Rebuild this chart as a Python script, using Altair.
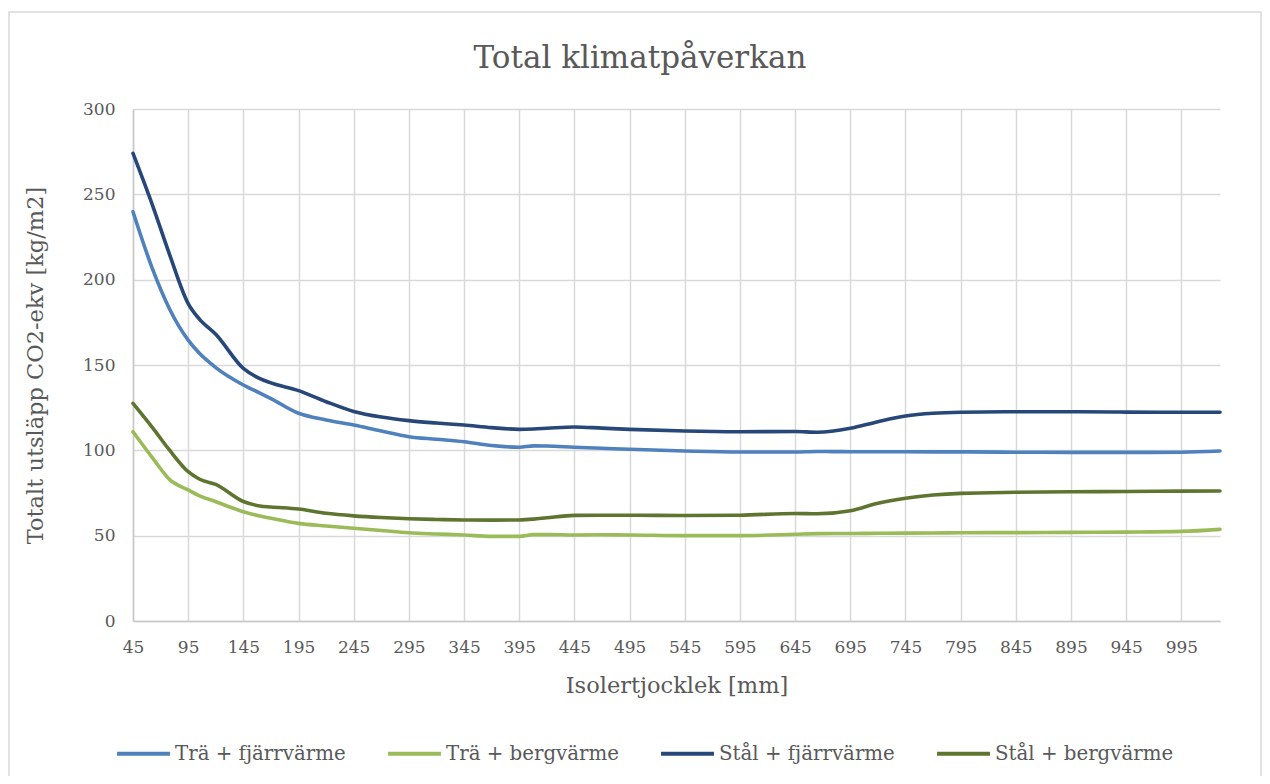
import altair as alt
import pandas as pd

# ---- data ----
thickness = [45, 63, 78, 95, 105, 120, 145, 160, 170, 195, 220, 245, 270, 295, 320, 345, 370, 395,
             408, 420, 445, 470, 495, 545, 595, 645, 665, 695, 720, 745, 770, 795, 845, 895, 945, 995, 1030]
tra_fjarr = [239.8, 205.7, 183, 164.6, 157, 148.5, 138.3, 133.5, 130.3, 121.7, 117.8, 114.8, 111.3, 108,
             106.5, 105, 102.8, 101.8, 102.6, 102.5, 101.8, 101.2, 100.6, 99.6, 99, 99, 99.3, 99.2, 99.2,
             99.2, 99.1, 99.1, 98.9, 98.8, 98.8, 98.9, 99.6]
tra_berg = [110.9, 95.3, 83, 76.8, 73.5, 69.9, 64, 61.5, 60.2, 57.2, 55.7, 54.3, 53, 51.7, 51, 50.4, 49.6,
            49.6, 50.6, 50.6, 50.4, 50.5, 50.4, 50, 50, 50.8, 51.2, 51.3, 51.4, 51.5, 51.6, 51.7, 51.8, 51.9,
            52.1, 52.5, 53.7]
stal_fjarr = [274, 243, 215, 186, 177, 168, 148, 142, 139.5, 135, 128.5, 122.8, 119.5, 117.4, 116, 114.8,
              113.3, 112.3, 112.5, 112.9, 113.7, 113, 112.3, 111.3, 110.9, 111, 110.6, 112.9, 116.8, 120.1,
              121.7, 122.3, 122.6, 122.6, 122.4, 122.3, 122.3]
stal_berg = [127.5, 113, 100.2, 87.5, 83.2, 80, 70, 67.4, 66.8, 65.6, 63.1, 61.6, 60.6, 59.9, 59.5, 59.2,
             59.1, 59.2, 59.7, 60.5, 61.9, 62, 62, 61.8, 62, 63, 62.8, 64.6, 69, 71.9, 73.8, 74.8, 75.4,
             75.7, 75.9, 76.1, 76.2]

series_names = ["Trä + fjärrvärme", "Trä + bergvärme", "Stål + fjärrvärme", "Stål + bergvärme"]
series_values = [tra_fjarr, tra_berg, stal_fjarr, stal_berg]
series_colors = ["#4F81BD", "#9BBB59", "#264778", "#5E7530"]

x_ticks = list(range(45, 1000, 50))
y_ticks = [0, 50, 100, 150, 200, 250, 300]

title_text = "Total klimatpåverkan"
x_title = "Isolertjocklek [mm]"
y_title = "Totalt utsläpp CO2-ekv [kg/m2]"

FONT = "DejaVu Serif"
GREY = "#595959"

rows = []
for name, vals in zip(series_names, series_values):
    for t, v in zip(thickness, vals):
        rows.append({"Isolertjocklek": t, "Värde": v, "Serie": name, "order": series_names.index(name)})
df = pd.DataFrame(rows)

PW, PH = 1087, 512

lines = alt.Chart(df).mark_line(
    interpolate="monotone", strokeWidth=3.6, strokeCap="round", strokeJoin="round"
).encode(
    x=alt.X("Isolertjocklek:Q",
            scale=alt.Scale(domain=[45, 1030], nice=False, zero=False),
            axis=alt.Axis(values=x_ticks, title=x_title, grid=True, ticks=False,
                          labelPadding=18, titlePadding=19, labelFlush=False)),
    y=alt.Y("Värde:Q",
            scale=alt.Scale(domain=[0, 300], nice=False),
            axis=alt.Axis(values=y_ticks, title=y_title, grid=True, ticks=False,
                          labelPadding=18, titlePadding=35)),
    color=alt.Color("Serie:N",
                    scale=alt.Scale(domain=series_names, range=series_colors),
                    sort=series_names,
                    legend=alt.Legend(title=None, orient="none", legendX=-18, legendY=616,
                                      direction="horizontal", symbolType="stroke",
                                      symbolSize=2800, symbolStrokeWidth=4,
                                      labelFont=FONT, labelFontSize=19.8, labelColor=GREY,
                                      labelLimit=500, columnPadding=34, labelOffset=3)),
    order="order:Q",
)

title_layer = alt.Chart(pd.DataFrame({"t": [title_text]})).mark_text(
    font=FONT, fontSize=31, color=GREY, align="center", baseline="middle"
).encode(x=alt.value(640 - 133), y=alt.value(59 - 109), text="t:N")

border = alt.Chart(pd.DataFrame({"b": [1]})).mark_rect(
    fill=None, stroke="#d9d9d9", strokeWidth=1.5
).encode(x=alt.value(-124), x2=alt.value(1254 - 125 - 1), y=alt.value(-97), y2=alt.value(700))

chart = alt.layer(border, lines, title_layer).properties(
    width=PW, height=PH,
    autosize=alt.AutoSizeParams(type="none"),
    padding={"left": 125, "top": 101, "right": 42, "bottom": 155},
    background="white",
).configure_view(stroke=None).configure_axis(
    gridColor="#d9d9d9", gridWidth=1.5, domainColor="#c8c8c8", domainWidth=1.5,
    labelFont=FONT, labelFontSize=17, labelColor=GREY,
    titleFont=FONT, titleFontSize=22.5, titleColor=GREY, titleFontWeight="normal",
)

chart.save("out.html", embed_options={"renderer": "svg", "actions": False})
